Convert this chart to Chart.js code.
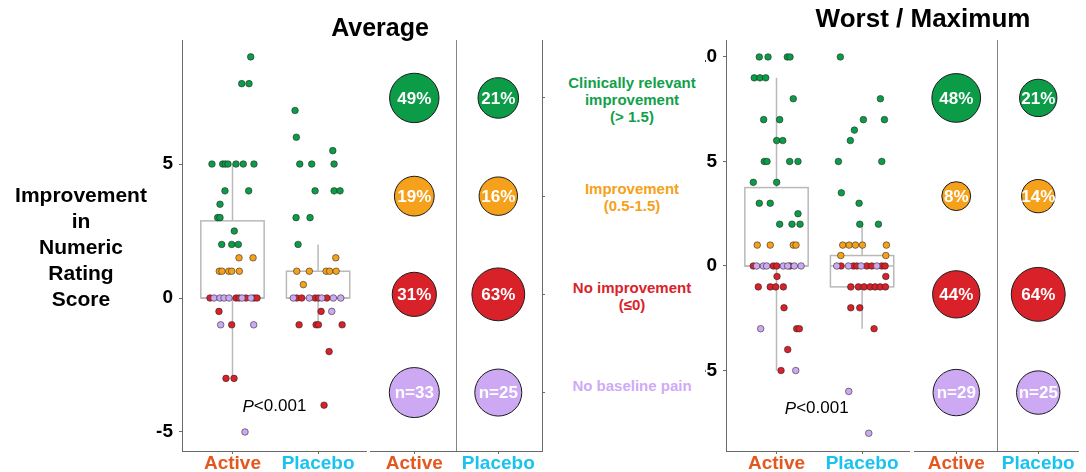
<!DOCTYPE html>
<html>
<head>
<meta charset="utf-8">
<script src="https://cdn.jsdelivr.net/npm/chart.js@4.4.1/dist/chart.umd.min.js"></script>
<style>
  html, body { margin: 0; padding: 0; background: #fff; }
  #stage { position: relative; width: 1086px; height: 472px; overflow: hidden;
           font-family: 'Liberation Sans', Arial, sans-serif; }
  #stage canvas { position: absolute; display: block; }
  .txt { position: absolute; transform: translate(-50%, -50%); white-space: nowrap;
         text-align: center; font-weight: bold; }
</style>
</head>
<body>
<div id="stage">
  <canvas id="avgScatter"  width="270" height="452" style="left:100px;top:20px"></canvas>
  <canvas id="avgBubbles"  width="190" height="452" style="left:360px;top:20px"></canvas>
  <canvas id="worstScatter" width="210" height="452" style="left:705px;top:20px"></canvas>
  <canvas id="worstBubbles" width="181" height="452" style="left:905px;top:20px"></canvas>
  <div class="txt" style="left:380px;top:27px;font-size:25px;color:#000">Average</div>
  <div class="txt" style="left:923px;top:18px;font-size:26px;color:#000">Worst / Maximum</div>
  <div class="txt" id="yTitle" style="left:81px;top:247px;font-size:21px;line-height:26px;color:#000"></div>
  <div id="outcomeLegend"></div>
</div>
<script>
const FONT = "'Liberation Sans', Arial, sans-serif";
const AXIS = '#6a6a6a';

// Groups and axis ticks
const categories = ['Active', 'Placebo'];
const categoryColors = ['#e4571f', '#18c3f1'];
const avgYTicks = [-5, 0, 5];
const worstYTicks = [-5, 0, 5, 10];
const yTitleLines = ['Improvement', 'in', 'Numeric', 'Rating', 'Score'];
const pValueText = ['P', '<0.001'];

// Outcome classes (top to bottom) and their colours
const outcomeLabels = [
  ['Clinically relevant', 'improvement', '(> 1.5)'],
  ['Improvement', '(0.5-1.5)'],
  ['No improvement', '(\u22640)'],
  ['No baseline pain']
];
const outcomeColors = ['#0c9c48', '#f6a11c', '#d92129', '#cda9f4'];
const outcomeTextColors = ['#12a04a', '#f6a11a', '#d8232a', '#cfaaf6'];

// Jittered observations: [group position (1 = Active, 2 = Placebo) + jitter, change in NRS]
const avgActive = [
  [1.213, 9], [1.108, 8], [1.193, 8],
  [0.760, 5], [0.885, 5], [0.916, 5], [0.947, 5], [1.041, 5], [1.126, 5], [1.251, 5],
  [0.912, 4], [1.189, 4], [0.854, 3.5], [0.827, 3], [0.854, 3], [1.021, 2.5],
  [0.874, 2], [0.991, 2], [1.068, 2],
  [1.076, 1.5], [1.240, 1.5],
  [0.846, 1], [0.877, 1], [0.956, 1], [0.991, 1], [1.080, 1],
  [0.737, 0], [1.041, 0], [1.076, 0], [1.158, 0], [1.251, 0], [1.287, 0],
  [0.842, -0.5], [0.991, -1], [0.924, -3], [1.018, -3]
];
const avgActiveNoPain = [
  [0.784, 0], [0.854, 0], [0.901, 0], [0.959, 0], [1.111, 0], [1.216, 0],
  [0.862, -1], [1.248, -1], [1.146, -5]
];
const avgPlacebo = [
  [1.731, 7], [1.746, 6], [2.172, 5.5], [1.786, 5], [1.926, 5], [2.187, 5],
  [1.965, 4], [2.187, 4], [2.257, 4], [1.743, 3], [1.906, 3], [1.766, 2],
  [2.207, 1.5], [1.751, 1], [1.898, 1], [2.094, 1], [2.135, 1], [2.211, 1], [1.828, 0.5],
  [1.751, 0], [1.809, 0], [1.965, 0], [2.004, 0], [2.102, 0],
  [2.035, -0.5], [1.778, -1], [1.977, -1], [2.004, -1], [2.281, -1], [2.129, -2], [2.070, -4]
];
const avgPlaceboNoPain = [
  [1.711, 0], [1.898, 0], [2.043, 0], [2.179, 0], [2.265, 0], [2.160, -0.5]
];
const worstActive = [
  [0.799, 10], [0.901, 10], [1.126, 10], [1.158, 10],
  [0.740, 9], [0.807, 9], [0.874, 9],
  [1.196, 8], [0.850, 7], [1.037, 7], [1.002, 6], [1.073, 6],
  [0.857, 5], [0.889, 5], [1.154, 5], [1.251, 5],
  [0.729, 4], [1.002, 4], [0.799, 3], [0.927, 3], [1.251, 2.5],
  [1.037, 2], [1.181, 2], [1.275, 2],
  [0.775, 1], [0.927, 1], [1.196, 1], [1.228, 1],
  [0.729, 0], [0.963, 0], [1.002, 0], [1.158, 0],
  [1.006, -0.5], [0.787, -1], [0.927, -1], [0.991, -1], [1.080, -1],
  [1.088, -2], [1.236, -3], [1.267, -3], [1.131, -4], [1.053, -5]
];
const worstActiveNoPain = [
  [0.768, 0], [0.846, 0], [0.885, 0], [1.080, 0], [1.131, 0], [1.208, 0], [1.287, 0],
  [0.815, -3], [1.225, -5]
];
const worstPlacebo = [
  [1.746, 10], [2.214, 8], [2.015, 7], [2.261, 7], [1.910, 6.5], [1.863, 6],
  [1.723, 5], [2.230, 5], [1.758, 3.5], [1.965, 3], [1.973, 2], [2.191, 2],
  [1.774, 1], [1.848, 1], [1.922, 1], [2.004, 1], [2.284, 1], [1.751, 0.5], [2.277, 0.5],
  [1.754, 0], [1.898, 0], [1.938, 0], [2.055, 0], [2.113, 0], [2.230, 0], [2.269, 0],
  [2.277, -0.5],
  [1.868, -1], [1.957, -1], [2.023, -1], [2.094, -1], [2.152, -1], [2.211, -1], [2.273, -1],
  [1.868, -2], [1.973, -2], [2.140, -3]
];
const worstPlaceboNoPain = [
  [1.704, 0], [1.840, 0], [1.988, 0], [2.172, 0], [1.844, -6], [2.078, -8]
];

// Box plot summaries per group: [lower whisker, Q1, median, Q3, upper whisker]
const avgBoxActive = [-3, 0, 0, 2.88, 5];
const avgBoxPlacebo = [-1, 0, 0, 1, 2];
const worstBoxActive = [-5, 0, 0, 3.75, 9];
const worstBoxPlacebo = [-3, -1, 0, 0.5, 2];

// Share of patients per outcome class (%), and group sizes
const avgActivePct = [49, 19, 31];
const avgPlaceboPct = [21, 16, 63];
const avgN = [33, 25];
const worstActivePct = [48, 8, 44];
const worstPlaceboPct = [21, 14, 64];
const worstN = [29, 25];

// ---------- text blocks ----------
document.getElementById('yTitle').innerHTML = yTitleLines.join('<br>');
const legendRowsY = [99, 197, 296, 385];
document.getElementById('outcomeLegend').innerHTML = outcomeLabels.map((lines, i) =>
  `<div class="txt" style="left:632px;top:${legendRowsY[i]}px;font-size:15px;line-height:17px;color:${outcomeTextColors[i]}">${lines.join('<br>')}</div>`
).join('');

// ---------- plugins ----------
const boxPlot = {
  id: 'boxPlot',
  beforeDatasetsDraw(chart, args, opts) {
    const { ctx, scales: { x, y } } = chart;
    ctx.save();
    ctx.strokeStyle = '#b9b9b9';
    ctx.lineWidth = 1.5;
    opts.stats.forEach((s, i) => {
      const cx = x.getPixelForValue(i + 1);
      const half = (x.getPixelForValue(i + 1 + opts.width / 2) - cx);
      const [lo, q1, med, q3, hi] = s.map(v => y.getPixelForValue(v));
      ctx.beginPath();
      ctx.moveTo(cx, q3); ctx.lineTo(cx, hi);
      ctx.moveTo(cx, q1); ctx.lineTo(cx, lo);
      ctx.stroke();
      ctx.strokeRect(cx - half, q3, half * 2, q1 - q3);
      ctx.beginPath();
      ctx.moveTo(cx - half, med); ctx.lineTo(cx + half, med);
      ctx.stroke();
    });
    ctx.restore();
  }
};

const pNote = {
  id: 'pNote',
  afterDatasetsDraw(chart, args, opts) {
    const { ctx, scales: { x, y } } = chart;
    const px = x.getPixelForValue(opts.x), py = y.getPixelForValue(opts.y);
    const italic = `italic 17px ${FONT}`, normal = `17px ${FONT}`;
    ctx.save();
    ctx.font = italic; const w1 = ctx.measureText(pValueText[0]).width;
    ctx.font = normal; const w2 = ctx.measureText(pValueText[1]).width;
    const sx = px - (w1 + w2) / 2;
    ctx.fillStyle = '#000';
    ctx.textBaseline = 'middle';
    ctx.font = italic; ctx.fillText(pValueText[0], sx, py);
    ctx.font = normal; ctx.fillText(pValueText[1], sx + w1, py);
    ctx.restore();
  }
};

const divider = {
  id: 'divider',
  beforeDatasetsDraw(chart) {
    const { ctx, chartArea, scales: { x } } = chart;
    const px = Math.round(x.getPixelForValue(1.5)) + 0.5;
    ctx.save();
    ctx.strokeStyle = '#858585';
    ctx.lineWidth = 1;
    ctx.beginPath();
    ctx.moveTo(px, chartArea.top); ctx.lineTo(px, chartArea.bottom);
    ctx.stroke();
    ctx.restore();
  }
};

const bubbleText = {
  id: 'bubbleText',
  afterDatasetsDraw(chart) {
    const { ctx } = chart;
    ctx.save();
    ctx.fillStyle = '#fff';
    ctx.font = `bold 17px ${FONT}`;
    ctx.textAlign = 'center';
    ctx.textBaseline = 'middle';
    chart.data.datasets.forEach((ds, di) => {
      chart.getDatasetMeta(di).data.forEach((el, i) => {
        ctx.fillText(ds.data[i].label, el.x, el.y + 1);
      });
    });
    ctx.restore();
  }
};

// ---------- builders ----------
function outcomeIndex(v) { return v > 1.5 ? 0 : (v > 0 ? 1 : 2); }

function pointDatasets(groups) {
  const buckets = [[], [], [], []];
  groups.forEach(([withPain, noPain]) => {
    withPain.forEach(([x, y]) => buckets[outcomeIndex(y)].push({ x, y }));
    noPain.forEach(([x, y]) => buckets[3].push({ x, y }));
  });
  return buckets.map((data, i) => ({
    data,
    backgroundColor: outcomeColors[i],
    borderColor: 'rgba(35,35,35,0.8)',
    borderWidth: 0.7,
    pointRadius: 3.3
  })).reverse();
}

function bubbleDatasets(activePct, placeboPct, n, pctSize, nSize) {
  const rows = [0, 1, 2].map(i => ({
    data: [
      { x: 1, y: 4 - i, r: pctSize(activePct[i]), label: activePct[i] + '%' },
      { x: 2, y: 4 - i, r: pctSize(placeboPct[i]), label: placeboPct[i] + '%' }
    ],
    backgroundColor: outcomeColors[i]
  }));
  rows.push({
    data: n.map((v, g) => ({ x: g + 1, y: 1, r: nSize(v), label: 'n=' + v })),
    backgroundColor: outcomeColors[3]
  });
  rows.forEach(r => { r.borderColor = '#1a1a1a'; r.borderWidth = 1; });
  return rows;
}

function sizeScale(r0, k) { return v => r0 + k * Math.sqrt(v); }

function categoryAxis(min, max) {
  return {
    type: 'linear', min, max,
    afterBuildTicks: s => { s.ticks = categories.map((c, i) => ({ value: i + 1 })); },
    afterFit: s => { s.height = 21; },
    ticks: {
      callback: (v, i) => categories[i],
      color: ctx => categoryColors[ctx.index],
      font: { family: FONT, size: 19, weight: 'bold', lineHeight: 1 },
      padding: 0, maxRotation: 0, autoSkip: false
    },
    grid: { drawOnChartArea: false, tickLength: 3, color: AXIS },
    border: { color: AXIS, width: 1 }
  };
}

function valueAxis(min, max, ticks, width) {
  return {
    type: 'linear', min, max,
    afterBuildTicks: s => { s.ticks = ticks.map(v => ({ value: v })); },
    afterFit: s => { s.width = width; },
    ticks: {
      callback: v => String(v),
      color: '#000',
      font: { family: FONT, size: 19, weight: 'bold' },
      padding: 6
    },
    grid: { drawOnChartArea: false, tickLength: 3, color: AXIS },
    border: { color: AXIS, width: 1 }
  };
}

const common = {
  responsive: false,
  animation: false,
  events: [],
  plugins: { legend: { display: false }, tooltip: { enabled: false } }
};

function scatterChart(id, sets, boxes, yMin, yMax, yTicks, yWidth, xMax, padRight, pPos) {
  return new Chart(document.getElementById(id), {
    type: 'scatter',
    data: { datasets: pointDatasets(sets) },
    plugins: [boxPlot, pNote],
    options: {
      ...common,
      layout: { autoPadding: false, padding: { top: 20, right: padRight, left: 0, bottom: 0 } },
      plugins: { ...common.plugins, boxPlot: { stats: boxes, width: 0.74 }, pNote: pPos },
      scales: { x: categoryAxis(0.41, xMax), y: valueAxis(yMin, yMax, yTicks, yWidth) }
    }
  });
}

function bubbleChart(id, datasets, xMin, xMax, padLeft, showRightAxis) {
  return new Chart(document.getElementById(id), {
    type: 'bubble',
    data: { datasets },
    plugins: [divider, bubbleText],
    options: {
      ...common,
      layout: { autoPadding: false, padding: { top: 20, left: padLeft, right: 0, bottom: 0 } },
      scales: {
        x: categoryAxis(xMin, xMax),
        y: {
          type: 'linear', min: 0.405, max: 4.59, position: 'right',
          display: showRightAxis,
          afterBuildTicks: s => { s.ticks = [1, 2, 3, 4].map(v => ({ value: v })); },
          afterFit: s => { s.width = 8; },
          ticks: { color: 'rgba(0,0,0,0)', font: { size: 1 }, padding: 0 },
          grid: { drawOnChartArea: false, tickLength: 3, color: AXIS },
          border: { color: AXIS, width: 1 }
        }
      }
    }
  });
}

// ---------- charts ----------
scatterChart('avgScatter',
  [[avgActive, avgActiveNoPain], [avgPlacebo, avgPlaceboNoPain]],
  [avgBoxActive, avgBoxPlacebo], -5.71, 9.63, avgYTicks, 82, 2.56, 4,
  { x: 1.49, y: -4.06 });

bubbleChart('avgBubbles',
  bubbleDatasets(avgActivePct, avgPlaceboPct, avgN, sizeScale(11.9, 1.83), sizeScale(13.45, 2.01)),
  0.4726, 2.5202, 10, true);

scatterChart('worstScatter',
  [[worstActive, worstActiveNoPain], [worstPlacebo, worstPlaceboNoPain]],
  [worstBoxActive, worstBoxPlacebo], -8.85, 10.81, worstYTicks, 21, 2.548, 6,
  { x: 1.47, y: -6.83 });

bubbleChart('worstBubbles',
  bubbleDatasets(worstActivePct, worstPlaceboPct, worstN, sizeScale(7.6, 2.42), sizeScale(2.2, 3.9)),
  0.4849, 2.4849, 9, false);
</script>
</body>
</html>
